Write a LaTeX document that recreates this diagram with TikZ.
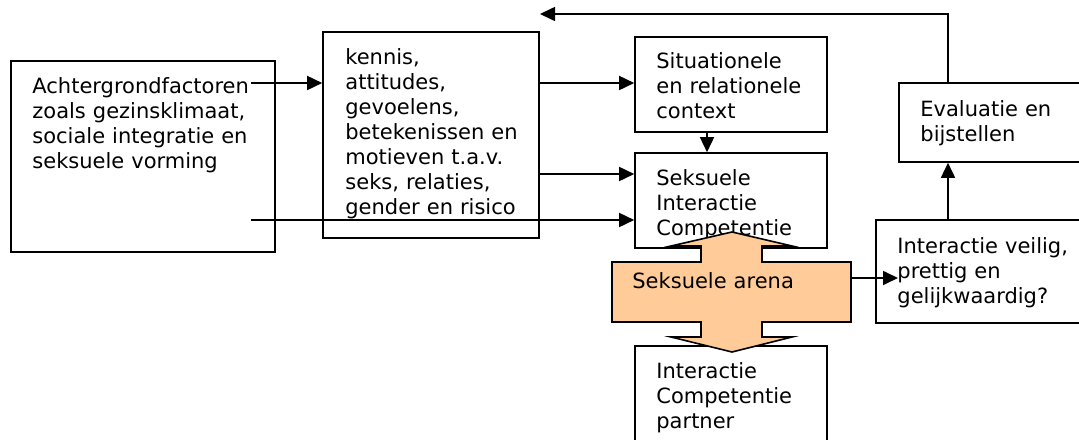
\documentclass[tikz,border=0pt]{standalone}
\usepackage{fontspec}
\setmainfont{DejaVu Sans}
\usetikzlibrary{arrows.meta}
\definecolor{peach}{HTML}{FFCC99}

\begin{document}
\begin{tikzpicture}[
    x=0.5pt, y=-0.5pt,
    box/.style={rectangle, draw, line width=0.8pt, inner sep=0pt},
    txt/.style={anchor=base west, inner sep=0pt, text width=130pt, align=left, font=\fontsize{10.5}{12.5}\selectfont},
    arrow/.style={-{Triangle[length=7.5pt, width=7pt]}, line width=0.8pt}
]
    \useasboundingbox (0,0) rectangle (1079,439);

    % boxes
    \node[box, minimum width=132pt, minimum height=95.5pt] (achter) at (143,156.5) {};
    \node[box, minimum width=108pt, minimum height=103pt] (kennis) at (431,135) {};
    \node[box, minimum width=96pt, minimum height=47.5pt] (context) at (731,84.5) {};
    \node[box, minimum width=96pt, minimum height=47.5pt] (sic) at (731,200.5) {};
    \node[box, minimum width=95.5pt, minimum height=39.5pt] (evaluatie) at (994.5,122.5) {};
    \node[box, minimum width=107pt, minimum height=51.5pt] (veilig) at (983,271.5) {};
    \node[box, minimum width=96pt, minimum height=57pt] (partner) at (731,403) {};

    % texts
    \node[txt] (achtertext) at (32,93) {Achtergrondfactoren\\zoals gezinsklimaat,\\sociale integratie en\\seksuele vorming};
    \node[txt] (kennistext) at (345,64) {kennis,\\attitudes,\\gevoelens,\\betekenissen en\\motieven t.a.v.\\seks, relaties,\\gender en risico};
    \node[txt] (contexttext) at (656,68) {Situationele\\en relationele\\context};
    \node[txt] (sictext) at (656,185) {Seksuele\\Interactie\\Competentie};
    \node[txt] (evaluatietext) at (920,116) {Evaluatie en\\bijstellen};
    \node[txt] (veiligtext) at (897,253) {Interactie veilig,\\prettig en\\gelijkwaardig?};
    \node[txt] (partnertext) at (656,378) {Interactie\\Competentie\\partner};

    % connector ends
    \coordinate (achterout) at (251,83);
    \coordinate (achterlow) at (251,220);
    \coordinate (veiligin) at (898,278);
    \coordinate (terug) at (540,14);

    % arrows
    \draw[arrow] (achterout) -- (kennis.west |- achterout);
    \draw[arrow] (kennis.east |- achterout) -- (context.west |- achterout);
    \draw[arrow] (kennis.east |- 0,174) -- (sic.west |- 0,174);
    \draw[arrow] (achterlow) -- (sic.west |- achterlow);
    \draw[arrow] (context.south -| 707,0) -- (sic.north -| 707,0);
    \draw[arrow] (veilig.north -| 948,0) -- (evaluatie.south -| 948,0);
    \draw[arrow] (evaluatie.north -| 948,0) |- (terug);

    % seksuele arena
    \draw[line width=0.8pt, fill=peach] (732,232) -- (792,246) -- (762,246) -- (762,262) -- (851,262)
        -- (851,322) -- (762,322) -- (762,337) -- (792,337) -- (732,352) -- (671,337) -- (701,337)
        -- (701,322) -- (612,322) -- (612,262) -- (701,262) -- (701,246) -- (671,246) -- cycle;
    \node[txt] (arena) at (632,288) {Seksuele arena};
    \coordinate (arenaout) at (851,278);
    \draw[arrow] (arenaout) -- (veiligin);
\end{tikzpicture}
\end{document}
